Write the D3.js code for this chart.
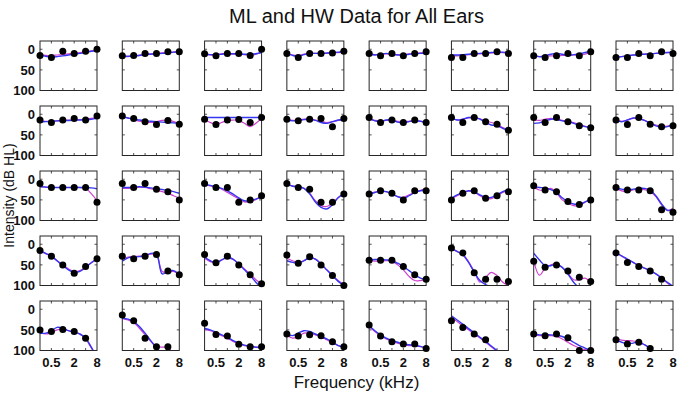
<!DOCTYPE html>
<html><head><meta charset="utf-8">
<script src="https://cdn.jsdelivr.net/npm/d3@7"></script>
<style>body{margin:0;background:#fff}svg{display:block}</style>
</head><body><svg id="c" width="678" height="396"></svg>
<script>
const titleText = "ML and HW Data for All Ears";
const xLabelText = "Frequency (kHz)";
const yLabelText = "Intensity (dB HL)";
const dotFreqs = [0.25, 0.5, 1, 2, 4, 8];
const fitFreqs = [0.25, 0.354, 0.5, 0.707, 1, 1.414, 2, 2.828, 4, 5.657, 8];
const xTickValues = [0.5, 1, 2, 4];
const xTickLabelValues = [0.5, 2, 8];
const xTickLabels = ["0.5", "2", "8"];
const yTickValues = [0, 50, 100];
const yTickLabels = ["0", "50", "100"];

// measured thresholds, row-major (5 rows x 8 columns)
const dotValues = [
  [15,20,5,10,5,0],[16,15,10,10,6,6],[11,16,10,10,15,0],[10,20,10,10,9,5],
  [10,16,10,16,10,6],[20,20,10,10,6,10],[16,20,16,10,16,6],[20,20,10,16,6,10],
  [14,20,14,10,14,4],[4,10,18,25,15,24],[12,25,14,13,20,8],[12,16,12,10,30,10],
  [8,20,14,20,14,20],[8,20,8,18,24,39],[8,20,8,18,28,33],[14,25,8,24,30,28],
  [10,20,20,20,20,56],[10,20,10,24,30,50],[10,20,20,56,50,40],[10,20,24,56,56,36],
  [36,28,34,50,28,28],[50,34,28,46,40,30],[16,26,30,54,61,50],[20,26,26,28,74,80],
  [15,29,50,70,54,35],[29,35,29,25,65,74],[25,45,29,50,74,96],[26,46,30,50,76,100],
  [39,39,39,54,74,85],[9,21,69,85,85,90],[41,56,50,65,80,90],[21,44,54,65,85,null],
  [50,54,49,54,70,null],[14,28,70,91,91,null],[34,61,65,85,91,91],[60,65,62,64,79,91],
  [38,65,79,84,84,95],[28,44,60,74,null,null],[60,64,60,69,100,100],[74,84,80,95,null,null]
];

// blue model fit
const blueFits = [
  [15,17,19,18,16,14,12,10,8,5,3],[17,17,16,15,13,12,11,10,9,7,6],[12,13,13,12,11,11,11,12,12,11,8],[10,15,17,13,10,10,10,9,8,7,6],
  [11,14,12,10,12,14,14,12,11,10,9],[14,14,13,12,11,10,9,8,7,7,8],[15,18,16,12,10,12,15,13,11,8,5],[19,18,16,14,13,12,11,10,9,8,8],
  [18,18,17,16,15,15,14,14,13,12,10],[6,9,12,14,16,17,18,19,20,21,22],[8,8,8,8,8,8,8,8,8,8,8],[14,16,15,13,12,15,20,22,18,14,12],
  [10,16,18,14,14,19,21,18,15,17,20],[8,14,12,8,8,12,20,26,28,34,40],[22,21,16,12,12,16,18,22,27,30,32],[14,18,14,9,10,15,22,28,32,30,26],
  [18,19,20,20,20,20,20,20,20,21,23],[20,20,19,18,19,21,23,25,27,30,34],[12,15,18,22,28,36,45,52,52,48,42],[12,17,18,22,35,55,68,72,62,45,35],
  [36,32,29,30,35,42,46,40,32,28,26],[46,38,32,28,30,38,44,44,38,30,26],[18,20,21,25,32,45,55,60,60,55,48],[22,24,26,24,22,22,26,40,60,75,74],
  [15,22,29,40,52,62,68,66,56,45,35],[41,33,31,30,28,22,24,72,66,64,74],[31,40,45,38,31,36,48,62,76,92,106],[40,44,46,40,32,36,48,62,76,90,100],
  [38,37,37,38,40,46,54,64,74,82,86],[12,17,26,44,68,88,98,104,110,115,120],[22,38,52,52,48,56,72,92,106,118,130],[21,28,36,44,52,58,64,72,82,92,102],
  [58,58,52,44,46,52,56,60,70,92,118],[22,24,30,42,58,76,94,110,125,140,155],[46,50,56,62,68,76,82,87,90,92,92],[60,64,58,52,54,60,66,72,80,88,92],
  [40,52,62,70,76,80,84,86,88,90,94],[16,26,36,47,57,68,78,89,100,110,120],[60,62,62,62,63,66,72,80,88,94,100],[74,80,84,82,80,86,96,110,125,140,155]
];

// magenta model fit
const magentaFits = [
  [13,15,15,14,13,11,10,8,6,4,2],[18,18,16,14,12,11,10,9,8,7,6],[10,14,13,11,10,12,11,13,15,12,8],[11,14,15,12,10,10,10,10,9,8,7],
  [12,13,12,11,12,13,13,11,10,9,8],[16,16,15,13,12,11,10,9,8,8,9],[17,18,17,16,16,15,14,14,15,12,7],[19,18,16,14,13,12,11,10,9,8,7],
  [16,17,17,16,15,14,14,13,12,10,8],[5,9,13,17,19,20,18,15,14,18,23],[12,20,24,20,15,14,15,22,30,22,10],[13,15,14,12,12,14,18,20,18,15,13],
  [12,15,16,15,15,17,18,17,16,17,19],[9,14,12,9,9,11,16,20,24,32,38],[14,15,12,10,12,15,17,20,25,29,32],[13,17,14,10,11,15,21,26,29,29,26],
  [18,19,20,20,20,20,20,20,22,35,52],[22,22,21,19,20,23,26,30,34,40,46],[14,16,18,24,32,40,48,55,54,49,42],[12,16,18,22,34,52,64,66,58,44,35],
  [35,31,29,30,36,42,44,38,32,27,22],[48,40,33,29,31,40,47,47,40,32,28],[18,26,26,22,33,50,58,64,64,56,48],[22,28,30,26,24,25,30,42,62,76,70],
  [17,23,30,40,50,60,66,64,55,45,36],[36,31,30,29,28,24,26,66,68,66,74],[34,42,44,38,33,37,48,60,72,86,96],[34,40,44,40,32,36,48,62,76,88,98],
  [40,41,41,40,41,50,62,78,88,88,85],[10,18,24,42,66,92,80,68,76,92,100],[41,75,58,50,48,56,70,86,86,82,92],[22,29,37,44,52,58,65,72,82,94,104],
  [56,60,56,50,48,52,56,60,72,94,116],[22,26,32,46,62,78,90,92,92,110,130],[48,52,58,64,70,78,84,88,90,92,94],[62,70,66,58,58,62,67,74,82,88,92],
  [42,54,64,72,78,82,86,88,89,91,95],[20,30,40,50,60,70,80,91,102,112,122],[62,64,64,64,66,72,80,88,94,98,100],[72,75,76,77,80,86,95,110,125,140,155]
];

const nRows = 5, nCols = 8;
const pw = 57, ph = 49.5;
const svg = d3.select("#c");
const font = "'Liberation Sans', Arial, Helvetica, sans-serif";
const axisColor = "#262626";

const colX = d3.scaleLinear().domain([0, nCols - 1]).range([40, 616]);
const rowY = d3.scaleLinear().domain([0, nRows - 1]).range([41, 301]);
const x = d3.scaleLog().domain([0.25, 8]).range([0, pw]);
const y = d3.scaleLinear().domain([-20, 100]).range([0, ph]);

svg.append("defs").append("clipPath").attr("id", "pclip")
  .append("rect").attr("x", 0).attr("y", 0).attr("width", pw).attr("height", ph);

const line = d3.line()
  .defined(d => d[1] != null)
  .x(d => x(d[0])).y(d => y(d[1]))
  .curve(d3.curveCatmullRom.alpha(0.5));

for (let r = 0; r < nRows; r++) {
  for (let c = 0; c < nCols; c++) {
    const i = r * nCols + c;
    const g = svg.append("g").attr("transform", `translate(${colX(c)},${rowY(r)})`);
    const tk = g.append("g").attr("stroke", axisColor).attr("stroke-width", 0.8);
    xTickValues.forEach(v => {
      tk.append("line").attr("x1", x(v)).attr("x2", x(v)).attr("y1", ph).attr("y2", ph - 2.5);
      tk.append("line").attr("x1", x(v)).attr("x2", x(v)).attr("y1", 0).attr("y2", 2.5);
    });
    [0, 50].forEach(v => {
      tk.append("line").attr("x1", 0).attr("x2", 2.5).attr("y1", y(v)).attr("y2", y(v));
      tk.append("line").attr("x1", pw).attr("x2", pw - 2.5).attr("y1", y(v)).attr("y2", y(v));
    });
    const lg = g.append("g").attr("clip-path", "url(#pclip)");
    lg.append("path").datum(fitFreqs.map((f, k) => [f, magentaFits[i][k]]))
      .attr("d", line).attr("fill", "none").attr("stroke", "#cf3fcf").attr("stroke-width", 1.2);
    lg.append("path").datum(fitFreqs.map((f, k) => [f, blueFits[i][k]]))
      .attr("d", line).attr("fill", "none").attr("stroke", "#3636f2").attr("stroke-width", 1.4);
    g.append("rect").attr("x", 0).attr("y", 0).attr("width", pw).attr("height", ph)
      .attr("fill", "none").attr("stroke", axisColor).attr("stroke-width", 1);
    g.selectAll("circle").data(dotFreqs.map((f, k) => [f, dotValues[i][k]]).filter(d => d[1] != null))
      .enter().append("circle")
      .attr("cx", d => x(d[0])).attr("cy", d => y(d[1])).attr("r", 3.5).attr("fill", "#000");
    if (c === 0) {
      yTickValues.forEach((v, k) => {
        g.append("text").attr("x", -5).attr("y", y(v)).attr("dy", "0.36em")
          .attr("text-anchor", "end").attr("font-family", font).attr("font-size", 13)
          .attr("font-weight", "bold").attr("fill", "#111").text(yTickLabels[k]);
      });
    }
    if (r === nRows - 1) {
      xTickLabelValues.forEach((v, k) => {
        g.append("text").attr("x", x(v)).attr("y", ph + 16.5)
          .attr("text-anchor", "middle").attr("font-family", font).attr("font-size", 13)
          .attr("font-weight", "bold").attr("fill", "#111").text(xTickLabels[k]);
      });
    }
  }
}

svg.append("text").attr("x", 356.5).attr("y", 23).attr("text-anchor", "middle")
  .attr("font-family", font).attr("font-size", 20).attr("fill", "#111").text(titleText);
svg.append("text").attr("x", 356.5).attr("y", 388).attr("text-anchor", "middle")
  .attr("font-family", font).attr("font-size", 17).attr("fill", "#111").text(xLabelText);
svg.append("text").attr("transform", "translate(13.5,195.5) rotate(-90)").attr("text-anchor", "middle")
  .attr("font-family", font).attr("font-size", 14).attr("fill", "#111").text(yLabelText);
</script></body></html>
